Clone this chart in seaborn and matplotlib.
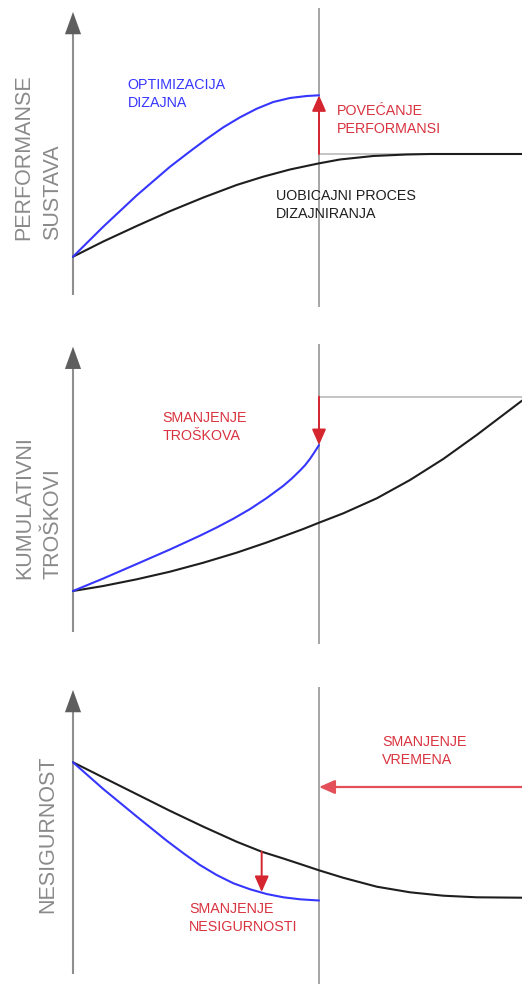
import matplotlib
matplotlib.use("Agg")
import matplotlib.pyplot as plt
import seaborn as sns

sns.set_style("white")
plt.rcParams['font.family'] = ['Liberation Sans', 'DejaVu Sans']

# ---------------- data (time: 0 = start, 1 = end of optimised design) -------------
# Panel 1: performance
t_perf_opt = [0, 0.123, 0.259, 0.394, 0.476, 0.543, 0.611, 0.679, 0.747, 0.814, 0.882, 0.950, 1.0]
perf_opt = [0.383, 0.683, 0.996, 1.282, 1.437, 1.560, 1.677, 1.777, 1.863, 1.930, 1.970, 1.990, 1.997]
t_perf_std = [0, 0.123, 0.259, 0.394, 0.530, 0.665, 0.773, 0.882, 0.997, 1.085, 1.220, 1.356, 1.451, 1.825]
perf_std = [0.383, 0.535, 0.690, 0.838, 0.975, 1.10, 1.183, 1.255, 1.315, 1.355, 1.39, 1.405, 1.41, 1.41]
perf_plateau = 1.41

# Panel 2: cumulative costs
t_cost_opt = [0, 0.123, 0.259, 0.394, 0.516, 0.584, 0.652, 0.720, 0.787, 0.855, 0.889,
              0.923, 0.943, 0.963, 0.980, 1.0]
cost_opt = [0.407, 0.532, 0.677, 0.822, 0.960, 1.042, 1.130, 1.227, 1.336, 1.459, 1.531,
            1.612, 1.664, 1.727, 1.789, 1.866]
t_cost_std = [0, 0.123, 0.259, 0.394, 0.530, 0.665, 0.787, 0.936, 1.0, 1.099, 1.235, 1.370, 1.505, 1.641, 1.825]
cost_std = [0.407, 0.457, 0.524, 0.600, 0.690, 0.790, 0.892, 1.027, 1.090, 1.184, 1.334, 1.517, 1.727, 1.967, 2.31]
cost_final = 2.35

# Panel 3: uncertainty
t_unc_opt = [0, 0.123, 0.259, 0.381, 0.449, 0.516, 0.584, 0.652, 0.720, 0.787, 0.855, 0.923, 1.0]
unc_opt = [2.117, 1.85, 1.575, 1.333, 1.207, 1.09, 0.99, 0.907, 0.847, 0.80, 0.767, 0.747, 0.735]
t_unc_std = [0, 0.123, 0.259, 0.394, 0.530, 0.665, 0.767, 0.855, 0.923, 1.0, 1.099, 1.235, 1.370, 1.505, 1.641, 1.825]
unc_std = [2.117, 1.965, 1.798, 1.632, 1.473, 1.323, 1.223, 1.155, 1.10, 1.037, 0.962, 0.873, 0.817, 0.783, 0.767, 0.763]
t_unc_gap = 0.767
unc_gap = [1.223, 0.82]          # from standard curve down to optimised curve
time_saving_level = 1.87
t_end_std = 1.825

ylabels = ["PERFORMANSE\nSUSTAVA", "KUMULATIVNI\nTROŠKOVI", "NESIGURNOST"]

# ---------------- style ----------------
BLUE = "#3636ff"
BLACK = "#1e1e1e"
AXGRAY = "#8e8e8e"
HEADGRAY = "#5e5e5e"
LIGHTGRAY = "#c4c4c4"
RED = "#d52630"
REDTXT = "#d8333f"
LIGHTRED = "#e4505a"
LABGRAY = "#8a8a8a"
FS = 10.3
LS = 1.33
YLS = 1.46

W, H = 522, 984
fig = plt.figure(figsize=(W / 100, H / 100), dpi=100)


def band(top_px, bot_px):
    return [0, 1 - bot_px / H, 1, (bot_px - top_px) / H]


XLIM = (-73 / 246, (W - 73) / 246)


def setup(ax, ylim, axis_top, vline):
    ax.set_xlim(*XLIM)
    ax.set_ylim(*ylim)
    ax.axis("off")
    # y axis with arrow
    ax.vlines(0, 0, axis_top - 0.1, color=AXGRAY, lw=1.5, zorder=1)
    ax.annotate("", xy=(0, axis_top), xytext=(0, axis_top - 0.2),
                arrowprops=dict(arrowstyle="-|>,head_length=16,head_width=5.8",
                                mutation_scale=1, color=HEADGRAY, lw=0.01,
                                shrinkA=0, shrinkB=0))
    # end-of-design vertical line
    ax.vlines(1, vline[0], vline[1], color=AXGRAY, lw=1.1, zorder=1)


def red_arrow(ax, xy, xytext, color=RED, lw=1.4, hl=9.5, hw=4.2):
    ax.annotate("", xy=xy, xytext=xytext,
                arrowprops=dict(arrowstyle=f"-|>,head_length={hl},head_width={hw}",
                                mutation_scale=1, color=color, lw=lw,
                                shrinkA=0, shrinkB=0), zorder=5)


# ---- Panel 1 ----
ax1 = fig.add_axes(band(0, 328))
setup(ax1, (-0.33, 2.95), 2.83, (-0.12, 2.87))
ax1.hlines(perf_plateau, 1, t_end_std, color=LIGHTGRAY, lw=1.4, zorder=1)
sns.lineplot(x=t_perf_std, y=perf_std, ax=ax1, color=BLACK, lw=1.5, zorder=3)
sns.lineplot(x=t_perf_opt, y=perf_opt, ax=ax1, color=BLUE, lw=1.5, zorder=3)
red_arrow(ax1, (1, max(perf_opt)), (1, perf_plateau))
ax1.text(0.222, 2.17, "OPTIMIZACIJA\nDIZAJNA", color=BLUE, fontsize=FS,
         ha="left", va="top", linespacing=LS)
ax1.text(1.072, 1.91, "POVEĆANJE\nPERFORMANSI", color=REDTXT, fontsize=FS,
         ha="left", va="top", linespacing=LS)
ax1.text(0.825, 1.06, "UOBICAJNI PROCES\nDIZAJNIRANJA", color=BLACK, fontsize=FS,
         ha="left", va="top", linespacing=LS)
ax1.text(-0.142, 0.55, ylabels[0], color=LABGRAY, fontsize=15.5, rotation=90,
         ha="center", va="bottom", multialignment="left", linespacing=YLS)

# ---- Panel 2 ----
ax2 = fig.add_axes(band(328, 656))
setup(ax2, (-0.243, 3.037), 2.85, (-0.12, 2.88))
ax2.hlines(cost_final, 1, t_end_std, color=LIGHTGRAY, lw=1.4, zorder=1)
sns.lineplot(x=t_cost_std, y=cost_std, ax=ax2, color=BLACK, lw=1.5, zorder=3)
sns.lineplot(x=t_cost_opt, y=cost_opt, ax=ax2, color=BLUE, lw=1.5, zorder=3)
red_arrow(ax2, (1, max(cost_opt)), (1, cost_final))
ax2.text(0.363, 2.207, "SMANJENJE\nTROŠKOVA", color=REDTXT, fontsize=FS,
         ha="left", va="top", linespacing=LS)
ax2.text(-0.137, 0.527, ylabels[1], color=LABGRAY, fontsize=15.5, rotation=90,
         ha="center", va="bottom", multialignment="left", linespacing=YLS)

# ---- Panel 3 ----
ax3 = fig.add_axes(band(656, 984))
setup(ax3, (-0.10, 3.18), 2.84, (-0.10, 2.87))
sns.lineplot(x=t_unc_std, y=unc_std, ax=ax3, color=BLACK, lw=1.5, zorder=3)
sns.lineplot(x=t_unc_opt, y=unc_opt, ax=ax3, color=BLUE, lw=1.5, zorder=3)
red_arrow(ax3, (t_unc_gap, unc_gap[1]), (t_unc_gap, unc_gap[0]))
red_arrow(ax3, (1, time_saving_level), (t_end_std, time_saving_level),
          color=LIGHTRED, lw=1.6)
ax3.text(1.257, 2.39, "SMANJENJE\nVREMENA", color=REDTXT, fontsize=FS,
         ha="left", va="top", linespacing=LS)
ax3.text(0.472, 0.717, "SMANJENJE\nNESIGURNOSTI", color=REDTXT, fontsize=FS,
         ha="left", va="top", linespacing=LS)
ax3.text(-0.102, 0.607, ylabels[2], color=LABGRAY, fontsize=15.5, rotation=90,
         ha="center", va="bottom")

fig.savefig("out.png", dpi=100, facecolor="white")
